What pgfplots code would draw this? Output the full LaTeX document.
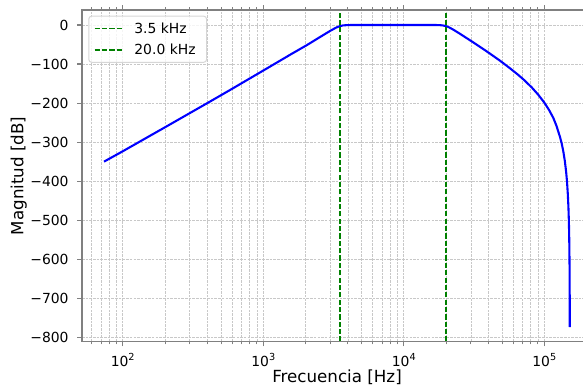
\documentclass[border=0pt]{standalone}
\usepackage{fontspec}
\setmainfont{DejaVu Sans}
\usepackage{pgfplots}
\pgfplotsset{compat=1.18}
\definecolor{gridc}{RGB}{200,200,200}
\definecolor{spc}{RGB}{128,128,128}
\definecolor{mplgreen}{RGB}{0,128,0}
\definecolor{legc}{RGB}{214,214,214}
\newcommand\tk{\fontsize{13.9}{16}\selectfont}
\newcommand\lab{\fontsize{16.7}{20}\selectfont}
\newcommand\tp[1]{10\raisebox{6.4pt}{\fontsize{9.7}{10}\selectfont #1}}
\begin{document}
\begin{tikzpicture}
\begin{axis}[
  scale only axis, width=501pt, height=331.6pt,
  xmode=log, log basis x=10,
  xmin=51.3, xmax=188600, ymin=-811, ymax=38.4,
  axis line style={draw=none},
  xtick={100,1000,10000,100000},
  xticklabels={\tp{2},\tp{3},\tp{4},\tp{5}},
  minor xtick={60,70,80,90,200,300,400,500,600,700,800,900,2000,3000,4000,5000,6000,7000,8000,9000,20000,30000,40000,50000,60000,70000,80000,90000},
  ytick={0,-100,-200,-300,-400,-500,-600,-700,-800},
  yticklabels={0,−100,−200,−300,−400,−500,−600,−700,−800},
  tick align=outside,
  major tick length=4.86pt, minor tick length=2.78pt,
  tick style={spc, line width=1.11pt},
  minor tick style={spc, line width=0.83pt},
  grid=both,
  major grid style={gridc, line width=0.6pt, dash pattern=on 2.57pt off 1.11pt},
  minor grid style={gridc, line width=0.6pt, dash pattern=on 2.57pt off 1.11pt},
  xticklabel style={font=\tk, anchor=base, inner sep=0pt, yshift=-20.1pt},
  yticklabel style={font=\tk, anchor=east, inner sep=0pt, xshift=-8.4pt},
  xlabel={Frecuencia [Hz]},
  ylabel={Magnitud [dB]},
  xlabel style={font=\lab, at={(axis description cs:0.509,0)}, anchor=base, inner sep=0pt, yshift=-40.7pt},
  ylabel style={font=\lab, at={(axis description cs:-0.1098,0.5)}, anchor=south, inner sep=0pt},
  legend style={at={(axis description cs:0,1)}, anchor=north west, xshift=6.3pt, yshift=-5.7pt,
    draw=legc, line width=1.0pt, fill=white, fill opacity=0.8, draw opacity=1, text opacity=1,
    rounded corners=2.8pt, inner xsep=5pt, inner ysep=6.8pt, row sep=10.3pt, font=\tk,
    nodes={font=\tk, inner sep=0pt, text height=10.5pt, text depth=0.6pt},
    /tikz/every odd column/.append style={column sep=10.5pt}},
  legend cell align=left,
  legend image code/.code={\draw[#1] (0pt,0pt) -- (28.4pt,0pt);},
]
\addplot[blue, line width=2.08pt, line join=round, forget plot] coordinates {
(73.6,-350) (100,-323.5) (150,-287.5) (200,-262) (301,-225.5) (450,-189.5)
(600,-163.5) (899,-126.5) (1200,-100) (1600,-73.5) (2040,-51.7) (2500,-32.2)
(3000,-14.9) (3300,-6.7) (3500,-3.0) (3700,-1.1) (4000,-0.2) (4500,0)
(6000,0) (10000,0) (15000,0) (17000,-0.11) (18000,-0.38) (19000,-1.18)
(20000,-3.01) (21000,-6.03) (22500,-11.9) (25000,-22.1) (30000,-40.5)
(35000,-56.5) (40000,-70.5) (48400,-91.5) (57100,-111.1) (65000,-127.4)
(71000,-139.3) (81400,-159.9) (90700,-178.9) (100000,-198.7) (108000,-217.5)
(115900,-238) (122000,-258) (129400,-287) (133000,-303.5) (136700,-324.7)
(140000,-348.2) (143000,-375.9) (145000,-400) (147000,-432.3) (148500,-466.4)
(149500,-498.6) (150300,-535.4) (150900,-577) (151300,-620.2) (151600,-673.6)
(151750,-718.6) (151860,-773.9)
};
\addplot[mplgreen, line width=1.7pt, dash pattern=on 5.14pt off 2.22pt] coordinates {(3500,-811) (3500,38.4)};
\addlegendentry{3.5 kHz}
\addplot[mplgreen, line width=1.7pt, dash pattern=on 5.14pt off 2.22pt] coordinates {(20000,-811) (20000,38.4)};
\addlegendentry{20.0 kHz\hspace*{6pt}}
\coordinate (bl) at (rel axis cs:0,0);
\coordinate (tr) at (rel axis cs:1,1);
\end{axis}
\draw[spc, line width=1.11pt] (tr) -- (bl |- tr) -- (bl) -- (tr |- bl);
\pgfresetboundingbox
\path ([xshift=-82pt,yshift=-43.4pt]bl) rectangle ([yshift=10pt]tr);
\end{tikzpicture}
\end{document}
